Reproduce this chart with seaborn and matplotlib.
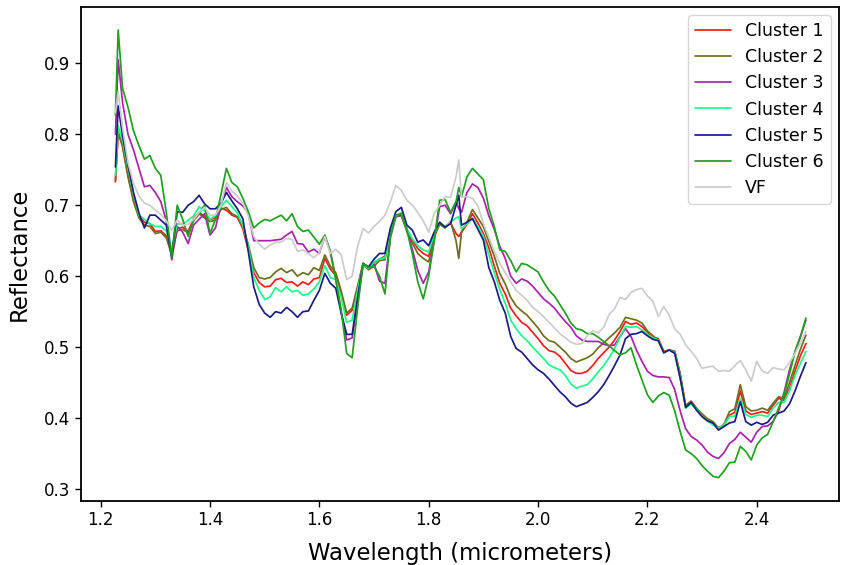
import numpy as np
import pandas as pd
import matplotlib
matplotlib.use("Agg")
import matplotlib.pyplot as plt
import seaborn as sns

wavelength = [1.227, 1.232, 1.24, 1.25, 1.26, 1.27, 1.28, 1.29, 1.30, 1.31, 1.32, 1.33, 1.34, 1.35, 1.36, 1.37, 1.38, 1.39,
              1.40, 1.41, 1.42, 1.43, 1.44, 1.45, 1.46, 1.47, 1.48, 1.49, 1.50, 1.51, 1.52, 1.53, 1.54, 1.55, 1.56, 1.57,
              1.58, 1.59, 1.60, 1.61, 1.62, 1.63, 1.64, 1.65, 1.66, 1.67, 1.68, 1.69, 1.70, 1.71, 1.72, 1.73, 1.74, 1.75,
              1.76, 1.77, 1.78, 1.79, 1.80, 1.81, 1.82, 1.83, 1.84, 1.85, 1.855, 1.86, 1.87, 1.88, 1.89, 1.90, 1.91, 1.92,
              1.93, 1.94, 1.95, 1.96, 1.97, 1.98, 1.99, 2.00, 2.01, 2.02, 2.03, 2.04, 2.05, 2.06, 2.07, 2.08, 2.09, 2.10,
              2.11, 2.12, 2.13, 2.14, 2.15, 2.16, 2.17, 2.18, 2.19, 2.20, 2.21, 2.22, 2.23, 2.24, 2.25, 2.26, 2.27, 2.28,
              2.29, 2.30, 2.31, 2.32, 2.33, 2.34, 2.35, 2.36, 2.37, 2.38, 2.39, 2.40, 2.41, 2.42, 2.43, 2.44, 2.45, 2.46,
              2.47, 2.48, 2.49]

cluster1 = [0.733, 0.800, 0.785, 0.742, 0.708, 0.686, 0.676, 0.674, 0.663, 0.664, 0.657, 0.637, 0.667, 0.669, 0.663, 0.681, 0.690, 0.684,
            0.680, 0.682, 0.696, 0.693, 0.686, 0.683, 0.667, 0.637, 0.605, 0.591, 0.585, 0.586, 0.595, 0.597, 0.591, 0.592, 0.586, 0.592,
            0.588, 0.596, 0.598, 0.625, 0.610, 0.601, 0.574, 0.545, 0.552, 0.585, 0.618, 0.611, 0.619, 0.624, 0.628, 0.665, 0.685, 0.688,
            0.666, 0.651, 0.639, 0.632, 0.628, 0.658, 0.674, 0.670, 0.675, 0.660, 0.656, 0.662, 0.673, 0.688, 0.675, 0.660, 0.640, 0.614,
            0.590, 0.575, 0.555, 0.544, 0.535, 0.530, 0.521, 0.512, 0.502, 0.495, 0.493, 0.487, 0.477, 0.467, 0.463, 0.463, 0.466, 0.474,
            0.484, 0.492, 0.500, 0.510, 0.522, 0.536, 0.532, 0.534, 0.529, 0.521, 0.513, 0.512, 0.494, 0.496, 0.494, 0.462, 0.416, 0.422,
            0.412, 0.403, 0.396, 0.393, 0.386, 0.389, 0.404, 0.408, 0.438, 0.410, 0.405, 0.407, 0.409, 0.407, 0.418, 0.428, 0.425, 0.442,
            0.466, 0.488, 0.505]

cluster2 = [0.736, 0.805, 0.782, 0.740, 0.705, 0.682, 0.672, 0.670, 0.660, 0.662, 0.654, 0.630, 0.664, 0.666, 0.661, 0.678, 0.688, 0.682,
            0.677, 0.679, 0.694, 0.697, 0.688, 0.684, 0.670, 0.645, 0.612, 0.598, 0.596, 0.598, 0.606, 0.611, 0.605, 0.609, 0.600, 0.605,
            0.602, 0.612, 0.608, 0.630, 0.614, 0.605, 0.579, 0.548, 0.555, 0.586, 0.616, 0.609, 0.614, 0.622, 0.623, 0.662, 0.684, 0.685,
            0.663, 0.647, 0.632, 0.625, 0.620, 0.655, 0.673, 0.668, 0.677, 0.650, 0.625, 0.662, 0.676, 0.694, 0.682, 0.670, 0.649, 0.628,
            0.604, 0.589, 0.570, 0.558, 0.551, 0.545, 0.536, 0.527, 0.516, 0.509, 0.507, 0.500, 0.493, 0.484, 0.479, 0.482, 0.485, 0.490,
            0.499, 0.506, 0.513, 0.520, 0.528, 0.542, 0.540, 0.538, 0.534, 0.523, 0.516, 0.510, 0.493, 0.496, 0.494, 0.462, 0.418, 0.424,
            0.414, 0.406, 0.399, 0.395, 0.386, 0.391, 0.409, 0.413, 0.447, 0.416, 0.410, 0.411, 0.414, 0.411, 0.421, 0.430, 0.428, 0.450,
            0.474, 0.497, 0.517]

cluster3 = [0.800, 0.905, 0.845, 0.800, 0.778, 0.752, 0.726, 0.728, 0.718, 0.705, 0.678, 0.623, 0.670, 0.662, 0.646, 0.672, 0.680, 0.688,
            0.658, 0.668, 0.700, 0.725, 0.712, 0.705, 0.699, 0.689, 0.650, 0.650, 0.650, 0.650, 0.651, 0.652, 0.658, 0.663, 0.646, 0.645,
            0.634, 0.638, 0.632, 0.656, 0.635, 0.597, 0.548, 0.510, 0.513, 0.565, 0.616, 0.611, 0.617, 0.593, 0.590, 0.655, 0.684, 0.686,
            0.668, 0.638, 0.608, 0.590, 0.606, 0.650, 0.698, 0.700, 0.688, 0.705, 0.695, 0.690, 0.718, 0.730, 0.725, 0.710, 0.685, 0.666,
            0.642, 0.625, 0.600, 0.590, 0.596, 0.593, 0.586, 0.577, 0.568, 0.562, 0.555, 0.545, 0.536, 0.528, 0.516, 0.510, 0.508, 0.508,
            0.508, 0.504, 0.502, 0.503, 0.515, 0.526, 0.515, 0.496, 0.480, 0.466, 0.460, 0.458, 0.458, 0.457, 0.440, 0.410, 0.385, 0.374,
            0.369, 0.362, 0.352, 0.346, 0.343, 0.351, 0.364, 0.370, 0.380, 0.373, 0.366, 0.380, 0.388, 0.389, 0.395, 0.410, 0.436, 0.468,
            0.493, 0.515, 0.538]

cluster4 = [0.742, 0.812, 0.792, 0.752, 0.716, 0.686, 0.680, 0.674, 0.670, 0.670, 0.664, 0.637, 0.674, 0.673, 0.679, 0.685, 0.698, 0.692,
            0.680, 0.686, 0.698, 0.707, 0.698, 0.689, 0.672, 0.642, 0.598, 0.580, 0.567, 0.571, 0.584, 0.578, 0.585, 0.578, 0.580, 0.573,
            0.575, 0.582, 0.592, 0.615, 0.598, 0.595, 0.570, 0.535, 0.538, 0.580, 0.616, 0.611, 0.620, 0.624, 0.626, 0.665, 0.685, 0.690,
            0.667, 0.653, 0.643, 0.637, 0.634, 0.660, 0.676, 0.670, 0.676, 0.682, 0.684, 0.667, 0.673, 0.682, 0.670, 0.656, 0.630, 0.605,
            0.581, 0.562, 0.538, 0.526, 0.516, 0.509, 0.500, 0.492, 0.484, 0.475, 0.471, 0.468, 0.460, 0.448, 0.442, 0.445, 0.447, 0.455,
            0.465, 0.474, 0.485, 0.498, 0.514, 0.529, 0.528, 0.529, 0.524, 0.518, 0.513, 0.510, 0.492, 0.496, 0.492, 0.457, 0.414, 0.420,
            0.412, 0.403, 0.396, 0.390, 0.386, 0.390, 0.402, 0.403, 0.428, 0.405, 0.401, 0.404, 0.404, 0.402, 0.414, 0.422, 0.422, 0.438,
            0.460, 0.477, 0.494]

cluster5 = [0.754, 0.840, 0.798, 0.756, 0.718, 0.689, 0.668, 0.686, 0.686, 0.679, 0.672, 0.627, 0.691, 0.690, 0.700, 0.705, 0.714, 0.702,
            0.695, 0.695, 0.703, 0.718, 0.706, 0.695, 0.681, 0.635, 0.585, 0.560, 0.548, 0.542, 0.550, 0.548, 0.556, 0.550, 0.542, 0.550,
            0.551, 0.566, 0.580, 0.604, 0.590, 0.583, 0.548, 0.518, 0.518, 0.570, 0.618, 0.613, 0.624, 0.632, 0.632, 0.668, 0.691, 0.697,
            0.672, 0.665, 0.648, 0.651, 0.643, 0.662, 0.676, 0.669, 0.674, 0.700, 0.714, 0.672, 0.676, 0.681, 0.666, 0.651, 0.612, 0.592,
            0.566, 0.548, 0.515, 0.498, 0.493, 0.484, 0.475, 0.468, 0.463, 0.455, 0.446, 0.437, 0.430, 0.421, 0.416, 0.419, 0.422, 0.429,
            0.437, 0.447, 0.460, 0.474, 0.489, 0.512, 0.518, 0.519, 0.522, 0.516, 0.511, 0.509, 0.492, 0.496, 0.491, 0.456, 0.415, 0.422,
            0.411, 0.402, 0.396, 0.393, 0.383, 0.388, 0.393, 0.395, 0.423, 0.395, 0.390, 0.394, 0.391, 0.394, 0.404, 0.407, 0.410, 0.420,
            0.438, 0.459, 0.478]

cluster6 = [0.827, 0.947, 0.865, 0.838, 0.805, 0.784, 0.765, 0.770, 0.752, 0.742, 0.690, 0.627, 0.700, 0.680, 0.656, 0.680, 0.688, 0.700,
            0.660, 0.680, 0.715, 0.752, 0.732, 0.726, 0.710, 0.691, 0.668, 0.675, 0.680, 0.678, 0.682, 0.686, 0.678, 0.688, 0.670, 0.663,
            0.665, 0.655, 0.645, 0.658, 0.635, 0.595, 0.552, 0.491, 0.485, 0.555, 0.618, 0.612, 0.614, 0.600, 0.575, 0.655, 0.686, 0.688,
            0.665, 0.632, 0.592, 0.568, 0.600, 0.650, 0.707, 0.708, 0.690, 0.705, 0.725, 0.712, 0.740, 0.752, 0.744, 0.736, 0.695, 0.670,
            0.637, 0.635, 0.622, 0.606, 0.618, 0.616, 0.611, 0.606, 0.592, 0.580, 0.572, 0.560, 0.548, 0.534, 0.526, 0.524, 0.519, 0.519,
            0.514, 0.508, 0.502, 0.495, 0.489, 0.492, 0.499, 0.475, 0.454, 0.433, 0.422, 0.431, 0.436, 0.432, 0.410, 0.381, 0.355, 0.350,
            0.343, 0.333, 0.325, 0.318, 0.316, 0.325, 0.337, 0.338, 0.360, 0.353, 0.341, 0.362, 0.372, 0.377, 0.395, 0.414, 0.433, 0.462,
            0.494, 0.515, 0.541]

vf = [0.830, 0.860, 0.810, 0.760, 0.731, 0.713, 0.703, 0.700, 0.693, 0.687, 0.678, 0.665, 0.679, 0.672, 0.673, 0.680, 0.690, 0.697,
      0.686, 0.686, 0.700, 0.732, 0.720, 0.713, 0.703, 0.685, 0.656, 0.645, 0.638, 0.644, 0.648, 0.648, 0.653, 0.652, 0.635, 0.637,
      0.632, 0.626, 0.633, 0.656, 0.632, 0.638, 0.630, 0.595, 0.600, 0.642, 0.667, 0.661, 0.670, 0.677, 0.686, 0.705, 0.728, 0.721,
      0.707, 0.700, 0.690, 0.678, 0.662, 0.688, 0.700, 0.712, 0.711, 0.740, 0.764, 0.712, 0.712, 0.710, 0.699, 0.674, 0.655, 0.635,
      0.618, 0.605, 0.592, 0.580, 0.573, 0.566, 0.556, 0.550, 0.543, 0.535, 0.527, 0.519, 0.513, 0.507, 0.504, 0.505, 0.516, 0.523,
      0.520, 0.528, 0.546, 0.554, 0.570, 0.567, 0.577, 0.581, 0.583, 0.572, 0.565, 0.543, 0.557, 0.545, 0.526, 0.518, 0.503, 0.494,
      0.484, 0.470, 0.472, 0.473, 0.466, 0.467, 0.466, 0.474, 0.481, 0.468, 0.452, 0.480, 0.466, 0.463, 0.471, 0.469, 0.468, 0.478,
      0.491, 0.506, 0.522]

series_names = ["Cluster 1", "Cluster 2", "Cluster 3", "Cluster 4", "Cluster 5", "Cluster 6", "VF"]
series_values = [cluster1, cluster2, cluster3, cluster4, cluster5, cluster6, vf]
series_colors = ["#ff1a1a", "#6e6e1e", "#aa22aa", "#1aff8c", "#1c1c80", "#1fa01f", "#cccccc"]

frames = []
for name, vals in zip(series_names, series_values):
    frames.append(pd.DataFrame({"Wavelength": wavelength, "Reflectance": vals, "Series": name}))
df = pd.concat(frames, ignore_index=True)

sns.set_style("ticks")
plt.rcParams["font.family"] = ["DejaVu Sans"]
plt.rcParams["text.color"] = "black"
plt.rcParams["axes.labelcolor"] = "black"

fig = plt.figure(figsize=(8.41, 5.65), dpi=100)
ax = fig.add_axes([0.0963, 0.1138, 0.9010, 0.8733])

sns.lineplot(data=df, x="Wavelength", y="Reflectance", hue="Series",
             palette=dict(zip(series_names, series_colors)), hue_order=series_names,
             estimator=None, sort=False, linewidth=1.25, ax=ax)

ax.set_xlim(1.164, 2.550)
ax.set_ylim(0.2835, 0.979)
ax.set_xticks([1.2, 1.4, 1.6, 1.8, 2.0, 2.2, 2.4])
ax.set_xticklabels(["1.2", "1.4", "1.6", "1.8", "2.0", "2.2", "2.4"])
ax.set_yticks([0.3, 0.4, 0.5, 0.6, 0.7, 0.8, 0.9])
ax.set_yticklabels(["0.3", "0.4", "0.5", "0.6", "0.7", "0.8", "0.9"])
ax.tick_params(axis="both", labelsize=12, length=4, width=1, colors="black")
ax.set_xlabel("Wavelength (micrometers)", fontsize=16.4, labelpad=9, color="black")
ax.set_ylabel("Reflectance", fontsize=16.4, labelpad=10, color="black")
for sp in ax.spines.values():
    sp.set_visible(True)
    sp.set_color("black")
    sp.set_linewidth(1.3)

leg = ax.legend(loc="upper right", fontsize=12.5, frameon=True, handlelength=2.1,
                borderpad=0.4, labelspacing=0.47, handletextpad=0.8, borderaxespad=0.45)
leg.get_frame().set_edgecolor("#cccccc")
leg.get_frame().set_linewidth(1.0)
for t in leg.get_texts():
    t.set_color("black")

fig.savefig("out.png", dpi=100)
